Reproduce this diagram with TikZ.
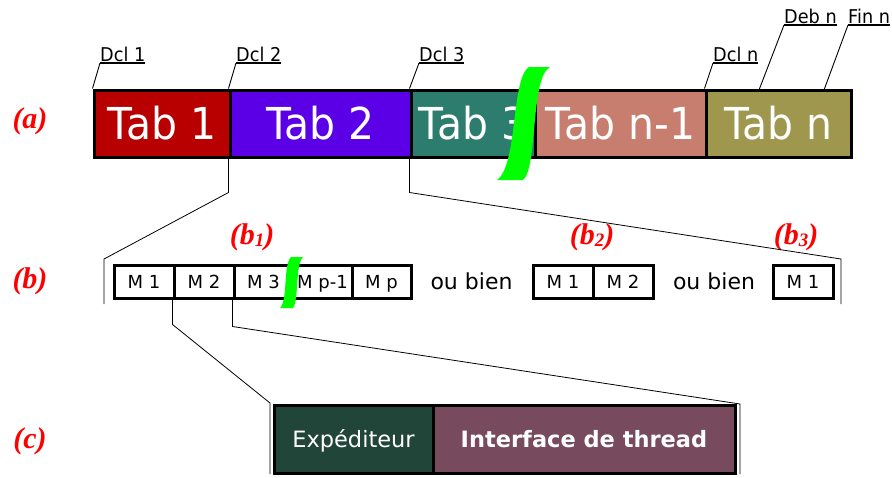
\documentclass[tikz,border=0pt]{standalone}
\usepackage{fontspec}
\setmainfont{DejaVu Sans}
\newfontfamily\condfont{DejaVu Sans}[FakeStretch=0.93]
\newfontfamily\tagfont{Liberation Serif}
\definecolor{tabA}{HTML}{B80000}
\definecolor{tabB}{HTML}{5B00E6}
\definecolor{tabC}{HTML}{2C7D6D}
\definecolor{tabD}{HTML}{C87E6E}
\definecolor{tabE}{HTML}{9E974D}
\definecolor{sender}{HTML}{224539}
\definecolor{iface}{HTML}{774A5D}
\definecolor{cut}{HTML}{00FF00}
\newcommand{\subn}[1]{{\fontsize{19}{19}\selectfont\raisebox{-2pt}{#1}}}
\begin{document}
\begin{tikzpicture}[x=1pt,y=-1pt,
  tab/.style={draw=black,line width=3pt,minimum height=67pt,inner sep=0pt,
    text=white,font=\condfont\fontsize{44}{44}\selectfont},
  dcl/.style={inner sep=0pt,font=\condfont\fontsize{19}{19}\selectfont},
  uline/.style={line width=1.3pt},
  lead/.style={line width=0.9pt},
  mbox/.style={draw=black,line width=3pt,minimum height=33pt,inner sep=0pt,
    text height=13pt,text depth=0pt,font=\fontsize{18}{18}\selectfont},
  cbox/.style={draw=black,line width=3pt,minimum height=68pt,inner sep=0pt,
    text height=17pt,text depth=0pt,text=white,font=\fontsize{22.5}{22.5}\selectfont},
  orword/.style={inner sep=0pt,font=\fontsize{22}{22}\selectfont},
  tag/.style={inner sep=0pt,text=red,font=\tagfont\bfseries\itshape\fontsize{30}{30}\selectfont},
  zoomline/.style={line width=0.8pt}
]
\useasboundingbox (0,0) rectangle (892,477);

% ---- level (a): the table of segments ----
\node[tab,fill=tabA,minimum width=136pt] (tab1) at (162,123.5) {Tab 1};
\node[tab,fill=tabB,minimum width=181pt] (tab2) at (320.5,123.5) {Tab 2};
\node[tab,fill=tabC,minimum width=124pt] (tab3) at (473,123.5) {Tab 3};
\node[tab,fill=tabD,minimum width=171pt] (tabm) at (620.5,123.5) {Tab n-1};
\node[tab,fill=tabE,minimum width=145pt] (tabn) at (778.5,123.5) {Tab n};

% elision mark between Tab 3 and Tab n-1
\fill[cut] (529,67) .. controls (511,78) and (518,165) .. (497,180)
  -- (523,180) .. controls (538,168) and (530,78) .. (550,67) -- cycle;

% declaration labels with their leaders
\node[dcl,anchor=base west] (dcl1) at (100,61) {Dcl 1};
\node[dcl,anchor=base west] (dcl2) at (236,61) {Dcl 2};
\node[dcl,anchor=base west] (dcl3) at (419,61) {Dcl 3};
\node[dcl,anchor=base west] (dcln) at (713,61) {Dcl n};
\node[dcl,anchor=base west] (debn) at (784,23) {Deb n};
\node[dcl,anchor=base west] (finn) at (848,23) {Fin n};
\coordinate (debpt) at (759,90);
\coordinate (finpt) at (824,90);
\foreach \l in {dcl1,dcl2,dcl3,dcln,debn,finn}
  \draw[uline] ([yshift=-2pt]\l.base west) -- ([yshift=-2pt]\l.base east);
\draw[lead] ([yshift=-2pt]dcl1.base west) -- (tab1.north west);
\draw[lead] ([yshift=-2pt]dcl2.base west) -- (tab2.north west);
\draw[lead] ([yshift=-2pt]dcl3.base west) -- (tab3.north west);
\draw[lead] ([yshift=-2pt]dcln.base west) -- (tabn.north west);
\draw[lead] ([yshift=-2pt]debn.base west) -- (debpt);
\draw[lead] ([yshift=-2pt]finn.base west) -- (finpt);

% ---- level (b): messages inside Tab 2 ----
\node[mbox,minimum width=60pt] (m1) at (144,281.5) {M 1};
\node[mbox,minimum width=60pt] (m2) at (204,281.5) {M 2};
\node[mbox,minimum width=59pt] (m3) at (263.5,281.5) {M 3};
\node[mbox,minimum width=59pt] (mq) at (322.5,281.5) {M p-1};
\node[mbox,minimum width=59pt] (mp) at (381.5,281.5) {M p};
\fill[cut] (291,257) .. controls (283,265) and (288,300) .. (280,308)
  -- (293,308) .. controls (299,300) and (295,265) .. (303,257) -- cycle;

\node[orword] (or1) at (471.5,281) {ou bien};
\node[mbox,minimum width=60pt] (n1) at (563,281.5) {M 1};
\node[mbox,minimum width=60pt] (n2) at (623,281.5) {M 2};
\node[orword] (or2) at (714,281) {ou bien};
\node[mbox,minimum width=60pt] (k1) at (803,281.5) {M 1};

\node[tag] (b1) at (252,237) {(b\subn{1})};
\node[tag] (b2) at (592,237) {(b\subn{2})};
\node[tag] (b3) at (796,237) {(b\subn{3})};

% zoom from Tab 2 to level (b)
\coordinate (bl1) at (104,259);
\coordinate (bl2) at (104,304);
\coordinate (br1) at (841,259);
\coordinate (br2) at (841,304);
\draw[zoomline] (tab2.south west) -- ++(0,34) -- (bl1) -- (bl2);
\draw[zoomline] (tab3.south west) -- ++(0,34) -- (br1) -- (br2);

% ---- level (c): contents of message M 2 ----
\node[cbox,fill=sender,minimum width=159pt] (exp) at (353.5,439) {Expéditeur};
\node[cbox,fill=iface,minimum width=302pt,font=\bfseries\fontsize{22.5}{22.5}\selectfont]
  (thr) at (584,439) {Interface de thread};

\coordinate (cl1) at (270,403);
\coordinate (cl2) at (270,474);
\coordinate (cr1) at (740,404);
\coordinate (cr2) at (740,474);
\draw[zoomline] (m2.south west) -- ++(0,25) -- (cl1) -- (cl2);
\draw[zoomline] (m3.south west) -- ++(0,27) -- (cr1) -- (cr2);

% level tags
\node[tag] (la) at (30,121) {(a)};
\node[tag] (lb) at (30,281) {(b)};
\node[tag] (lc) at (30,441) {(c)};
\end{tikzpicture}
\end{document}
